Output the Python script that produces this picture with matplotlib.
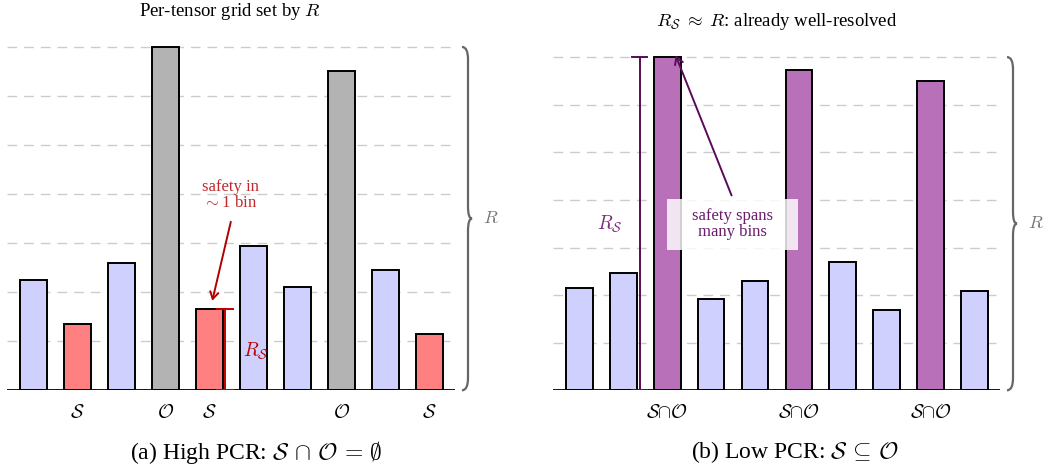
import numpy as np
import matplotlib
matplotlib.use("Agg")
import matplotlib.pyplot as plt
from matplotlib.path import Path
from matplotlib.patches import PathPatch, Rectangle
import matplotlib.transforms as mtransforms

plt.rcParams['font.family'] = ['Liberation Serif', 'DejaVu Serif']
plt.rcParams['mathtext.fontset'] = 'cm'
plt.rcParams['lines.scale_dashes'] = False

# ---- data ----
hi_vals = [2.25, 1.35, 2.6, 7.0, 1.65, 2.95, 2.1, 6.5, 2.45, 1.15]
hi_kind = ['n', 's', 'n', 'o', 's', 'n', 'n', 'o', 'n', 's']
lo_vals = [2.15, 2.46, 7.0, 1.92, 2.3, 6.72, 2.69, 1.69, 6.5, 2.08]
lo_kind = ['n', 'n', 'so', 'n', 'n', 'so', 'n', 'n', 'so', 'n']
tick_txt = {'n': '', 's': r'$\mathcal{S}$', 'o': r'$\mathcal{O}$',
            'so': r'$\mathcal{S}{\cap}\mathcal{O}$'}
colors = {'n': '#d0d0ff', 's': '#ff8080', 'o': '#b3b3b3', 'so': '#b871b8'}

W, H = 1050, 467
fig = plt.figure(figsize=(W / 100, H / 100), dpi=100)

def px_axes(x0, x1, base, unit):
    # axes placed by pixel coords, y-limits 0..7.2
    top = 7.2
    return fig.add_axes([x0 / W, (H - base) / H, (x1 - x0) / W, top * unit / H])

def brace(ax, ymax, col='#666666'):
    tr = mtransforms.blended_transform_factory(ax.transAxes, ax.transData)
    bb = ax.get_position()
    fw = bb.width * W
    x0 = 1 + 7 / fw
    x1 = 1 + 13 / fw
    xt = 1 + 17 / fw
    r = 0.25
    ym = ymax / 2
    verts = [(x0, ymax), (x1, ymax), (x1, ymax - r),
             (x1, ym + r), (x1, ym), (xt, ym),
             (x1, ym), (x1, ym - r),
             (x1, r), (x1, 0), (x0, 0)]
    codes = [Path.MOVETO, Path.CURVE3, Path.CURVE3,
             Path.LINETO, Path.CURVE3, Path.CURVE3,
             Path.CURVE3, Path.CURVE3,
             Path.LINETO, Path.CURVE3, Path.CURVE3]
    ax.add_patch(PathPatch(Path(verts, codes), transform=tr, fill=False,
                           edgecolor=col, lw=1.6, clip_on=False))
    ax.text(xt + 11 / fw, ym, r'$R$', transform=tr, color='#777777',
            fontsize=13, ha='left', va='center', clip_on=False)

def panel(ax, vals, kind):
    x = np.arange(len(vals))
    ax.set_xlim(-0.6, 9.58)
    ax.set_ylim(0, 7.2)
    ax.axis('off')
    for g in range(1, 8):
        ax.axhline(g, color='#cccccc', lw=1.0, dashes=(7, 5), zorder=0)
    ax.bar(x, vals, width=0.61, color=[colors[k] for k in kind],
           edgecolor='black', lw=1.4, zorder=2)
    ax.axhline(0, color='black', lw=2.0, zorder=3)
    for xi, k in zip(x, kind):
        if tick_txt[k]:
            ax.text(xi, -0.47, tick_txt[k], ha='center', va='center',
                    fontsize=14, clip_on=False)
    brace(ax, max(vals))
    return x

# ---- (a) high PCR ----
ax1 = px_axes(7, 455, 390.3, 49.05)
x1 = panel(ax1, hi_vals, hi_kind)
red = '#c00000'
i = 4
ax1.plot([4.35, 4.35], [0, hi_vals[i]], color=red, lw=1.4, zorder=4)
for yy in (0, hi_vals[i]):
    ax1.plot([4.17, 4.53], [yy, yy], color=red, lw=1.4, zorder=4)
ax1.text(5.05, 0.8, r'$R_{\mathcal{S}}$', color=red, fontsize=14,
         ha='center', va='center')
ax1.annotate('', xy=(x1[i] + 0.05, hi_vals[i] + 0.12), xytext=(4.5, 3.49),
             arrowprops=dict(arrowstyle='->,head_length=0.5,head_width=0.3',
                             color='#b00000', lw=1.4), zorder=5)
ax1.text(4.47, 3.98, 'safety in\n$\\sim$1 bin', color='#c0282d', fontsize=12,
         ha='center', va='center', linespacing=1.05)

# ---- (b) low PCR ----
ax2 = px_axes(553, 1000, 390.3, 47.6)
x2 = panel(ax2, lo_vals, lo_kind)
pur = '#5a0a5a'
j = 2
ax2.plot([1.375, 1.375], [0, lo_vals[j]], color=pur, lw=1.4, zorder=4)
for yy in (0, lo_vals[j]):
    ax2.plot([1.2, 1.55], [yy, yy], color=pur, lw=1.4, zorder=4)
ax2.text(0.69, 3.49, r'$R_{\mathcal{S}}$', color='#7a2a7a', fontsize=14,
         ha='center', va='center')
ax2.annotate('', xy=(x2[j] + 0.17, lo_vals[j] + 0.09), xytext=(3.49, 4.04),
             arrowprops=dict(arrowstyle='->,head_length=0.5,head_width=0.3',
                             color=pur, lw=1.4), zorder=5)
ax2.add_patch(Rectangle((1.99, 2.95), 3.0, 1.07, fc='white', ec='none',
                        alpha=0.82, zorder=6))
ax2.text(3.49, 3.49, 'safety spans\nmany bins', color='#6a1b6a', fontsize=12,
         ha='center', va='center', linespacing=1.05, zorder=7)

# ---- titles and captions ----
fig.text(230 / W, 1 - 12 / H, r'Per-tensor grid set by $R$', ha='center',
         va='center', fontsize=13.5)
fig.text(777 / W, 1 - 22 / H, r'$R_{\mathcal{S}}\;\approx\;R$: already well-resolved',
         ha='center', va='center', fontsize=13.5)
fig.text(256 / W, 1 - 452 / H,
         r'(a) High PCR: $\mathcal{S}\,\cap\,\mathcal{O}\,=\,\emptyset$',
         ha='center', va='center', fontsize=17)
fig.text(795 / W, 1 - 452 / H, r'(b) Low PCR: $\mathcal{S}\,\subseteq\,\mathcal{O}$',
         ha='center', va='center', fontsize=17)

fig.savefig('out.png', dpi=100)
